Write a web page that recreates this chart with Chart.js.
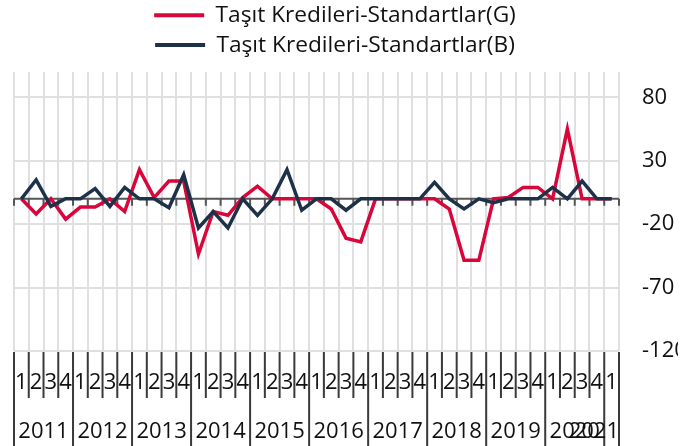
<!DOCTYPE html>
<html>
<head>
<meta charset="utf-8">
<script src="https://cdn.jsdelivr.net/npm/chart.js@4.4.1/dist/chart.umd.min.js"></script>
<style>
  html, body { margin: 0; padding: 0; background: #fff; }
  #wrap { width: 678px; height: 446px; }
</style>
</head>
<body>
<div id="wrap"><canvas id="chart"></canvas></div>
<script>
// quarterly periods, 2011Q1 .. 2021Q1
const years = ['2011', '2012', '2013', '2014', '2015', '2016', '2017', '2018', '2019', '2020', '2021'];
const quarters = ['1', '2', '3', '4'];
const lastPeriod = '2021-1';

const periods = [];
years.forEach(y => quarters.forEach(q => {
  if (periods.length && periods[periods.length - 1] === lastPeriod) return;
  periods.push(y + '-' + q);
}));

// Taşıt Kredileri-Standartlar (G) - red
const seriesG = [0, -12, 0, -16, -6.5, -6.5, 0, -10, 23, 1, 14, 14, -43.5, -10, -13,
  1, 10, 0, 0, 0, 0, -8, -31, -34, 0, 0, 0, 0, 0, -8, -48.5, -48.5, 0, 1, 9, 9, 0, 55, 0, 0, 0];
// Taşıt Kredileri-Standartlar (B) - navy
const seriesB = [0, 15, -6, 0, 0, 8, -6, 9, 0, 0, -7, 19, -23, -10, -23,
  0, -13, 0, 23, -9, 0, 0, -9, 0, 0, 0, 0, 0, 13, 0, -8, 0, -3, 0, 0, 0, 9, 0, 14, 0, 0];

const yTicks = [-120, -70, -20, 30, 80];

const RED = '#d8063b';
const NAVY = '#1d3248';
const FONT = "'Open Sans', sans-serif";

// zero line with small ticks, category separators below the plot, quarter and year labels
const periodAxis = {
  id: 'periodAxis',
  beforeInit(chart) {
    const legend = chart.legend;
    if (!legend) return;
    const fit = legend.fit;
    legend.fit = function () {
      fit.call(this);
      this.height = 75;
    };
  },
  afterLayout(chart) {
    // nudge the legend a bit to the left like the original
    if (chart.legend) {
      chart.legend.left -= 11;
      chart.legend.right -= 11;
    }
  },
  beforeDatasetsDraw(chart) {
    const {ctx, chartArea, scales: {x, y}} = chart;
    const half = (x.getPixelForValue(1) - x.getPixelForValue(0)) / 2;
    const y0 = y.getPixelForValue(0);
    ctx.save();
    ctx.strokeStyle = '#555';
    ctx.lineWidth = 2;
    ctx.beginPath();
    ctx.moveTo(chartArea.left, y0);
    ctx.lineTo(chartArea.right, y0);
    for (let i = 0; i <= periods.length; i++) {
      const px = x.getPixelForValue(0) - half + i * half * 2;
      ctx.moveTo(px, y0);
      ctx.lineTo(px, y0 + 7);
    }
    ctx.stroke();
    ctx.restore();
  },
  afterDraw(chart) {
    const {ctx, chartArea, scales: {x}} = chart;
    const half = (x.getPixelForValue(1) - x.getPixelForValue(0)) / 2;
    const top = chartArea.bottom + 1;
    const qBottom = top + 46;
    const bottom = chart.height;
    ctx.save();
    ctx.strokeStyle = '#3a3a3a';
    ctx.lineWidth = 2;
    ctx.beginPath();
    for (let i = 0; i <= periods.length; i++) {
      const px = x.getPixelForValue(0) - half + i * half * 2;
      const yearEdge = i === periods.length || periods[i].endsWith('-1');
      ctx.moveTo(px, top);
      ctx.lineTo(px, yearEdge ? bottom : qBottom);
    }
    ctx.stroke();

    ctx.fillStyle = '#111';
    ctx.font = '22px ' + FONT;
    ctx.textAlign = 'center';
    ctx.textBaseline = 'middle';
    periods.forEach((p, i) => {
      ctx.fillText(p.split('-')[1], x.getPixelForValue(i), top + 31);
    });
    years.forEach(yr => {
      const idx = periods.map((p, i) => p.startsWith(yr) ? i : -1).filter(i => i >= 0);
      let cx = (x.getPixelForValue(idx[0]) + x.getPixelForValue(idx[idx.length - 1])) / 2;
      const w = ctx.measureText(yr).width;
      cx = Math.min(cx, chartArea.right - w / 2);
      ctx.fillText(yr, cx, qBottom + 34);
    });
    ctx.restore();
  }
};

new Chart(document.getElementById('chart'), {
  type: 'line',
  data: {
    labels: periods,
    datasets: [
      {
        label: 'Taşıt Kredileri-Standartlar(G)',
        data: seriesG,
        borderColor: RED,
        backgroundColor: RED,
        borderWidth: 3.5,
        pointRadius: 0,
        tension: 0,
        order: 1
      },
      {
        label: 'Taşıt Kredileri-Standartlar(B)',
        data: seriesB,
        borderColor: NAVY,
        backgroundColor: NAVY,
        borderWidth: 3.5,
        pointRadius: 0,
        tension: 0,
        order: 0
      }
    ]
  },
  options: {
    responsive: true,
    maintainAspectRatio: false,
    devicePixelRatio: 1,
    animation: false,
    layout: { padding: { left: 14, top: -3, right: 0, bottom: 0 } },
    plugins: {
      tooltip: { enabled: false },
      legend: {
        position: 'top',
        labels: {
          font: { family: FONT, size: 22.7 },
          color: '#111',
          boxWidth: 50,
          boxHeight: 4,
          padding: 7,
          sort: (a, b) => a.datasetIndex - b.datasetIndex,
          generateLabels(chart) {
            const items = Chart.defaults.plugins.legend.labels.generateLabels(chart);
            items.forEach(it => { it.lineWidth = 0; it.fillStyle = it.strokeStyle; });
            return items;
          }
        }
      }
    },
    scales: {
      x: {
        type: 'category',
        offset: true,
        grid: { offset: true, color: '#e0e0e0', lineWidth: 2, drawTicks: false },
        border: { display: false },
        ticks: { display: false },
        afterFit(scale) { scale.height = 95; }
      },
      y: {
        position: 'right',
        min: -120,
        max: 100,
        grid: { color: '#e0e0e0', lineWidth: 2, drawTicks: false },
        border: { display: false },
        ticks: {
          padding: 23,
          font: { family: FONT, size: 22 },
          color: '#111'
        },
        afterBuildTicks(scale) { scale.ticks = yTicks.map(v => ({ value: v })); },
        afterFit(scale) { scale.width = 59; }
      }
    }
  },
  plugins: [periodAxis]
});
</script>
</body>
</html>
